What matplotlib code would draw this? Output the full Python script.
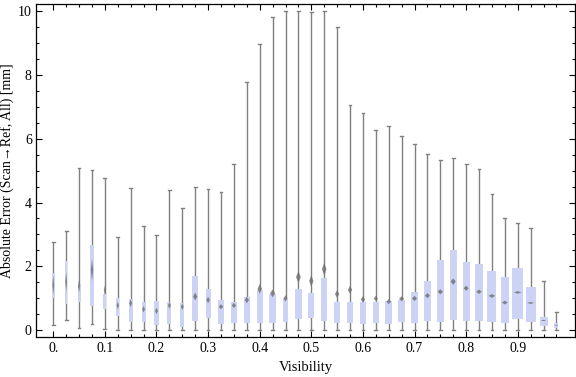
import matplotlib
matplotlib.use("Agg")
import matplotlib.pyplot as plt
from matplotlib.ticker import FixedLocator, FixedFormatter
import numpy as np

visibility = [0.0, 0.025, 0.05, 0.075, 0.1, 0.125, 0.15, 0.175, 0.2, 0.225,
              0.25, 0.275, 0.3, 0.325, 0.35, 0.375, 0.4, 0.425, 0.45, 0.475,
              0.5, 0.525, 0.55, 0.575, 0.6, 0.625, 0.65, 0.675, 0.7, 0.725,
              0.75, 0.775, 0.8, 0.825, 0.85, 0.875, 0.9, 0.925, 0.95, 0.975]
whisker_lo = [0.16, 0.31, 0.07, 0.19, 0.03, 0, 0, 0, 0, 0,
              0, 0, 0, 0, 0, 0, 0, 0, 0, 0,
              0, 0, 0, 0, 0, 0, 0, 0, 0, 0,
              0, 0, 0, 0, 0, 0, 0, 0, 0, 0]
whisker_hi = [2.77, 3.10, 5.07, 5.01, 4.76, 2.93, 4.45, 3.25, 2.97, 4.38,
              3.82, 4.49, 4.41, 4.32, 5.21, 7.78, 8.96, 9.81, 10.0, 10.0,
              9.97, 10.0, 9.5, 7.05, 6.8, 6.27, 6.39, 6.08, 5.83, 5.51,
              5.32, 5.39, 5.2, 5.04, 4.26, 3.5, 3.35, 3.19, 1.54, 0.55]
q1 = [1.0, 0.82, 0.89, 0.76, 0.67, 0.43, 0.26, 0.24, 0.15, 0.2,
      0.1, 0.29, 0.39, 0.2, 0.23, 0.23, 0.23, 0.23, 0.26, 0.34,
      0.39, 0.29, 0.23, 0.23, 0.2, 0.23, 0.2, 0.26, 0.23, 0.29,
      0.26, 0.32, 0.29, 0.29, 0.26, 0.23, 0.34, 0.26, 0.14, 0.07]
q3 = [1.79, 2.15, 1.45, 2.66, 1.13, 0.99, 0.96, 0.87, 0.91, 0.87,
      0.85, 1.68, 1.29, 0.94, 0.87, 1.04, 1.26, 1.13, 1.0, 1.3,
      1.15, 1.62, 0.87, 0.87, 0.87, 0.87, 0.91, 0.94, 1.18, 1.54,
      2.2, 2.5, 2.12, 2.06, 1.85, 1.65, 1.95, 1.35, 0.42, 0.22]
means = [1.41, 1.51, 1.38, 1.88, 1.25, 0.77, 0.84, 0.65, 0.6, 0.77,
         0.73, 1.05, 0.94, 0.73, 0.77, 0.94, 1.29, 1.15, 0.99, 1.66,
         1.54, 1.91, 1.13, 1.26, 0.96, 0.99, 0.89, 0.98, 0.99, 1.08,
         1.2, 1.52, 1.31, 1.2, 1.07, 0.86, 1.18, 0.85, 0.3, 0.15]
mean_ci = [0.3, 0.3, 0.2, 0.35, 0.15, 0.12, 0.12, 0.1, 0.1, 0.1,
           0.1, 0.12, 0.1, 0.08, 0.08, 0.1, 0.15, 0.12, 0.1, 0.18,
           0.18, 0.2, 0.12, 0.12, 0.1, 0.08, 0.08, 0.08, 0.08, 0.08,
           0.08, 0.1, 0.08, 0.07, 0.06, 0.06, 0.04, 0.03, 0.02, 0.02]
# relative box widths (in px of original, proportional to group size)
box_width_px = [2.5, 2.5, 3, 3.3, 3, 3.3, 4, 4, 4.2, 4,
                4, 6, 5, 6, 6, 6, 6, 7, 5.3, 6.7,
                6, 6.3, 6, 6, 6, 6, 6.5, 7, 7, 7,
                7.5, 7.2, 7, 7.5, 9, 8, 10.8, 10, 8, 4]

xticks_major = [0.0, 0.1, 0.2, 0.3, 0.4, 0.5, 0.6, 0.7, 0.8, 0.9]
xtick_labels = ["0.", "0.1", "0.2", "0.3", "0.4", "0.5", "0.6", "0.7", "0.8", "0.9"]
yticks_major = [0, 2, 4, 6, 8, 10]

plt.rcParams['font.family'] = ['Liberation Serif', 'DejaVu Serif']

fig = plt.figure(figsize=(5.76, 3.77), dpi=100)
ax = fig.add_axes([36/576, 1-336.7/377, (575-36)/576, (336.7-4)/377])
ax.set_xlim(-0.0335, 1.011)
ax.set_ylim(-0.21, 10.23)

px_per_unit = 516.0
box_color = '#cdd3f5'
wcolor = '#808080'
cap_half = 1.4 / px_per_unit

for i, x in enumerate(visibility):
    w = box_width_px[i] / px_per_unit
    ax.plot([x, x], [whisker_lo[i], whisker_hi[i]], color=wcolor, lw=1.0, zorder=2,
            solid_capstyle='butt')
    for yy in (whisker_lo[i], whisker_hi[i]):
        ax.plot([x - cap_half, x + cap_half], [yy, yy], color=wcolor, lw=1.0, zorder=2)
    ax.bar(x, q3[i] - q1[i], bottom=q1[i], width=w, color=box_color,
           edgecolor='none', zorder=3)
    hw = 0.36 * w
    m = means[i]
    c = mean_ci[i]
    ax.fill([x - hw, x, x + hw, x], [m, m + c, m, m - c], color='#6e6e6e',
            alpha=0.8, lw=0, zorder=4)

ax.xaxis.set_major_locator(FixedLocator(xticks_major))
ax.xaxis.set_major_formatter(FixedFormatter(xtick_labels))
ax.xaxis.set_minor_locator(FixedLocator(visibility))
ax.yaxis.set_major_locator(FixedLocator(yticks_major))
ax.yaxis.set_minor_locator(FixedLocator(np.arange(0, 10.01, 0.5)))

ax.tick_params(which='both', direction='in', top=True, right=True, color='black')
ax.tick_params(which='major', length=4.5, width=0.8, labelsize=10)
ax.tick_params(axis='x', which='major', pad=4)
ax.tick_params(axis='y', which='major', pad=3)
ax.tick_params(which='minor', length=2.5, width=0.8)
for s in ax.spines.values():
    s.set_linewidth(0.9)
    s.set_color('black')

ax.set_xlabel('Visibility', fontsize=10.5, labelpad=4)
ax.set_ylabel('Absolute Error (Scan\u2192Ref, All) [mm]', fontsize=10, labelpad=3)

fig.savefig('out.png', dpi=100)
